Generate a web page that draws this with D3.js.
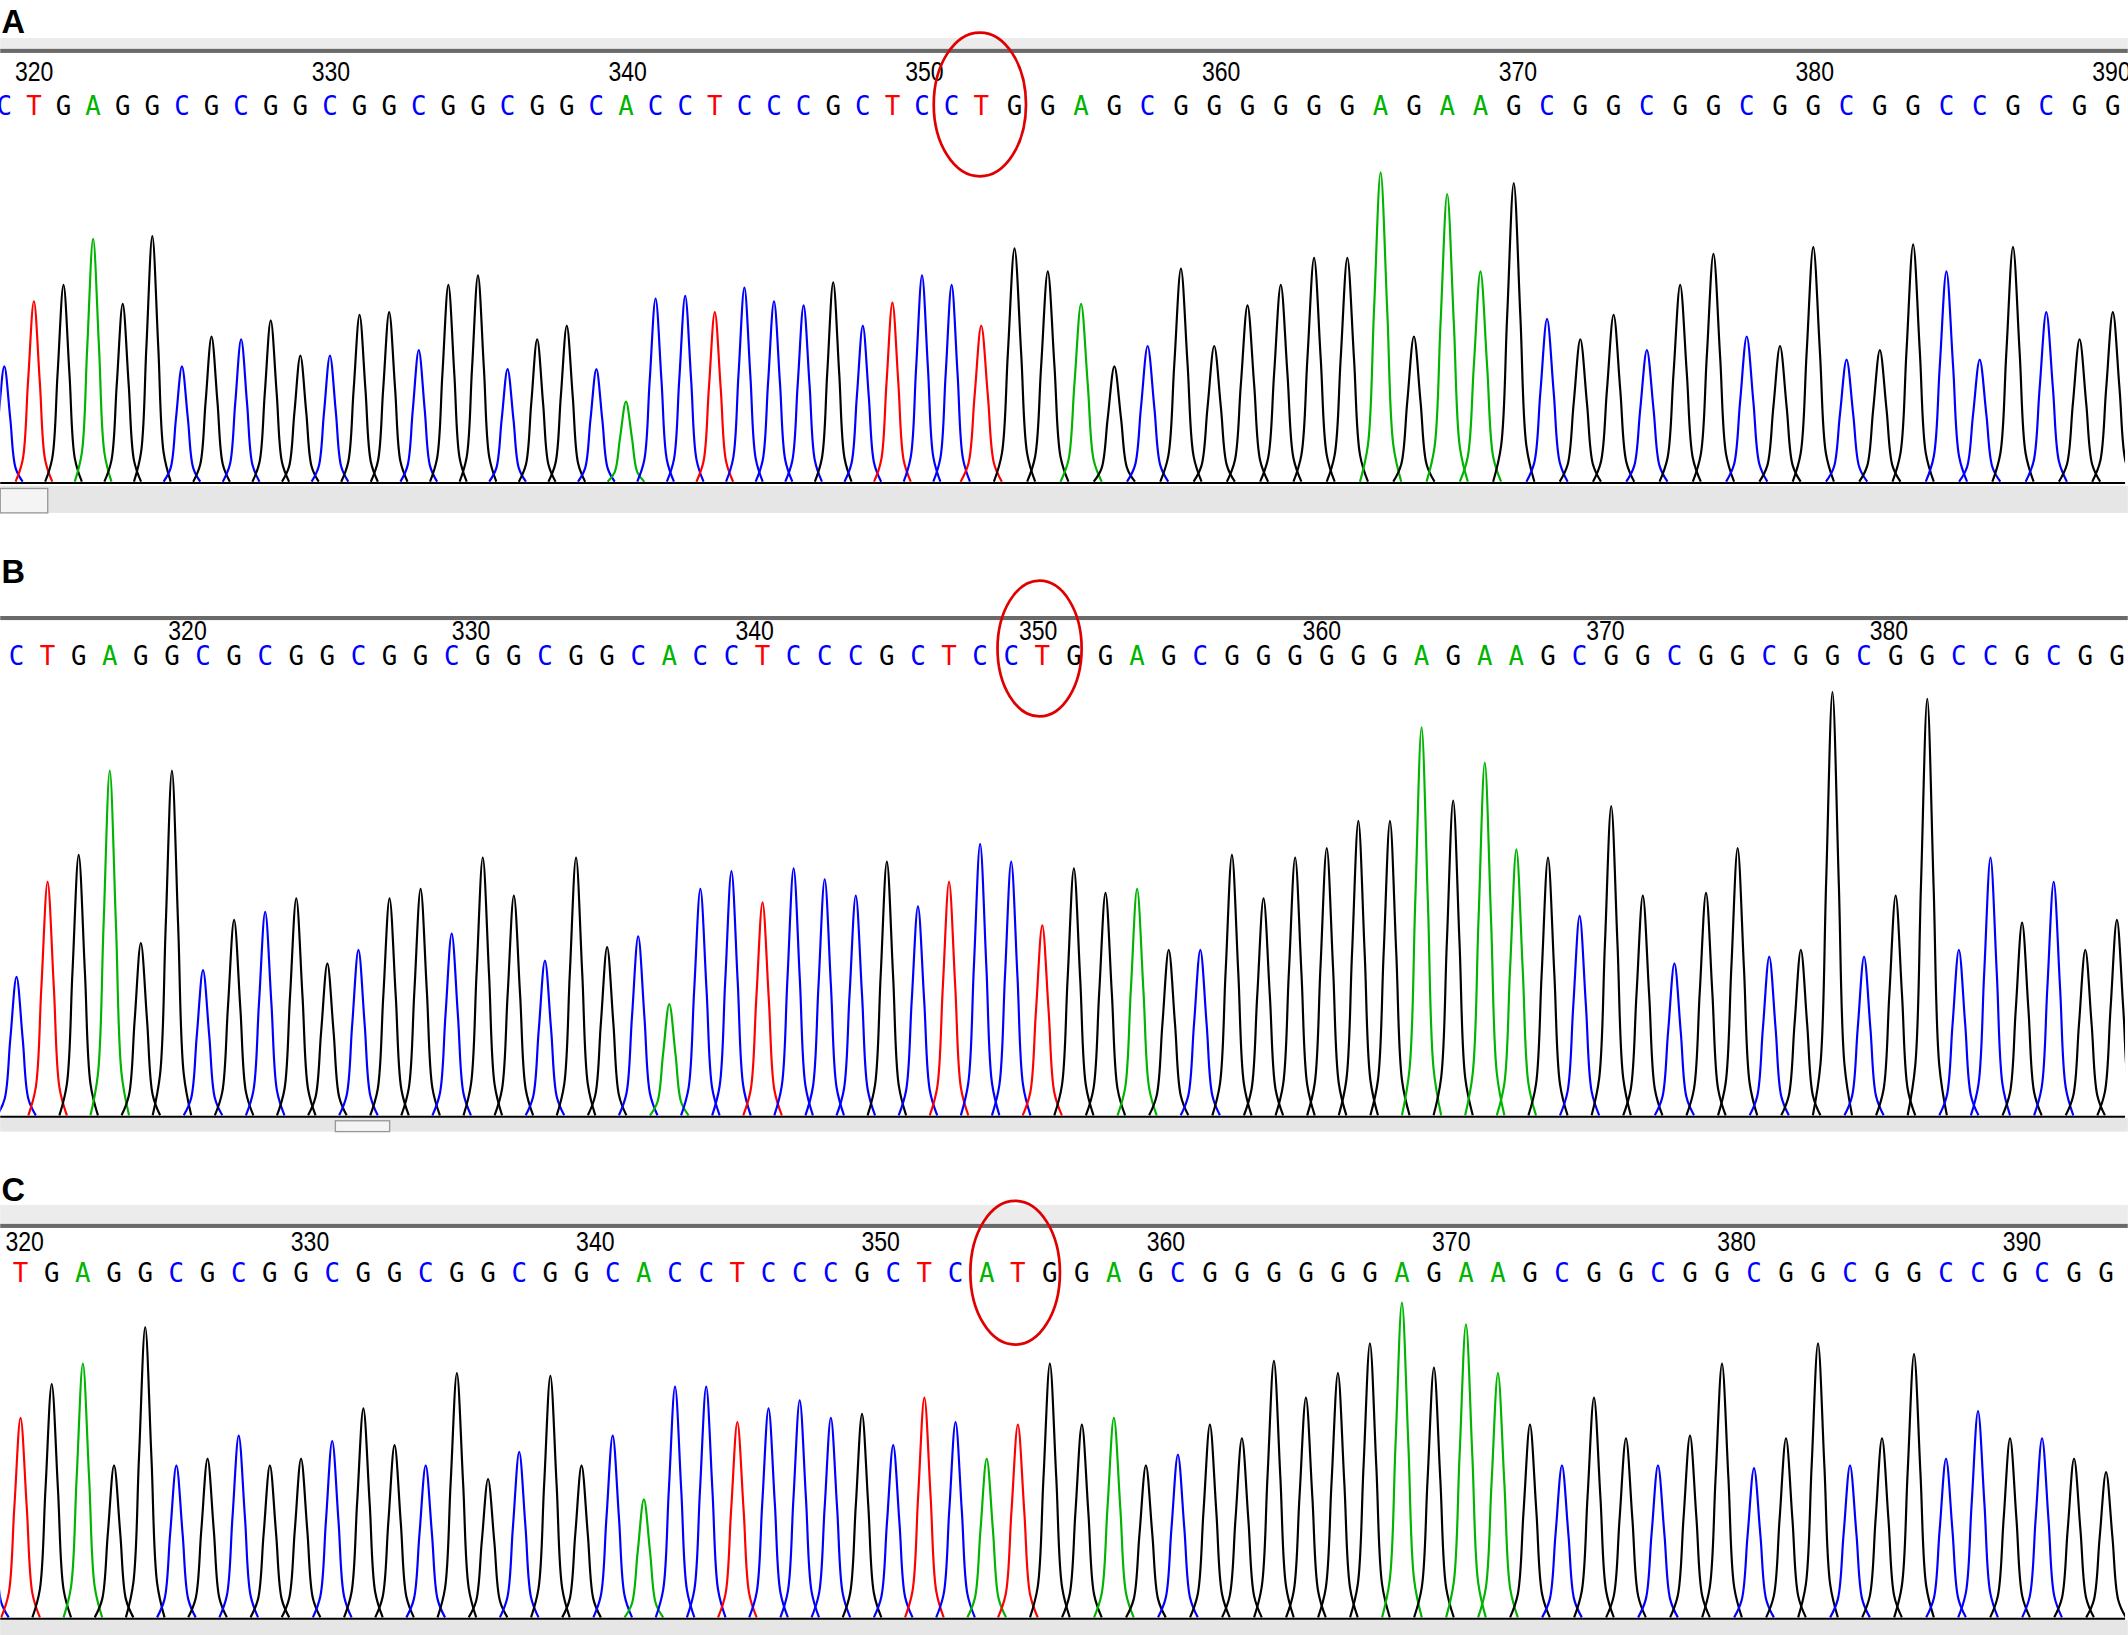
<!DOCTYPE html>
<html><head><meta charset="utf-8">
<script src="https://cdn.jsdelivr.net/npm/d3@7"></script>
<style>body{margin:0;background:#fff}svg{display:block}</style>
</head><body>
<svg id="c" width="2128" height="1635" viewBox="0 0 1568 1205"></svg>
<script>
const seqA = "CTGAGGCGCGGCGGCGGCGGCACCTCCCGCTCCTGGAGCGGGGGGAGAAGCGGCGGCGGCGGCCGCGG";
const seqB = "CTGAGGCGCGGCGGCGGCGGCACCTCCCGCTCCTGGAGCGGGGGGAGAAGCGGCGGCGGCGGCCGCGG";
const seqC = "CTGAGGCGCGGCGGCGGCGGCACCTCCCGCTCATGGAGCGGGGGGAGAAGCGGCGGCGGCGGCCGCGG";
const peaksA = [85,133,145,179,131,181,85,107,105,119,93,93,123,125,97,145,152,83,105,115,83,59,135,137,125,143,133,130,147,115,132,152,145,115,172,155,131,85,100,157,100,130,145,165,165,228,107,212,155,220,120,105,123,97,145,168,107,100,173,90,97,175,155,90,173,125,105,125];
const peaksB = [102,172,192,254,127,254,107,144,150,160,112,122,160,167,134,190,162,114,190,124,132,82,167,180,157,182,174,162,187,154,172,200,187,140,182,164,167,122,122,192,160,190,197,217,217,286,232,260,196,190,147,228,162,112,164,197,117,122,312,117,162,307,122,190,142,172,122,144];
const peaksC = [92,147,172,187,112,214,112,117,134,112,117,130,154,127,112,180,102,122,178,112,134,87,170,170,144,154,160,147,150,127,162,144,117,142,187,142,147,112,120,142,132,189,162,180,202,232,184,216,180,142,112,162,132,112,134,187,110,132,202,112,132,194,117,152,132,132,117,107];
const ticksA = [320,330,340,350,360,370,380,390];
const ticksB = [320,330,340,350,360,370,380];
const ticksC = [320,330,340,350,360,370,380,390];
const baseColor = {A:"#00b400",C:"#0000ff",G:"#000000",T:"#ff0000"};

const svg = d3.select("#c");
const panels = [
 {label:"A",labelY:24,seq:seqA,peaks:peaksA,ticks:ticksA,top:37,numY:60,baseY:85,base:355,xd:[0,33,67],xr:[3,723,1557],tk:[320,390],tr:[25,1556],
  strip:[358,378],thumb:[0,35],band:[28,36],circle:[722,77,34,53]},
 {label:"B",labelY:430,seq:seqB,peaks:peaksB,ticks:ticksB,top:455,numY:472,baseY:490,base:822,xd:[0,33,67],xr:[12,768,1560],tk:[320,380],tr:[138,1392],
  strip:[824,834],thumb:[247,287],band:null,circle:[766,478,31,50]},
 {label:"C",labelY:885,seq:seqC,peaks:peaksC,ticks:ticksC,top:903,numY:922,baseY:945,base:1192,xd:[0,33,67],xr:[-8,750,1552],tk:[320,390],tr:[18,1490],
  strip:[1194,1205],thumb:null,band:[888,902],circle:[748,938,33,53]}
];
const line = d3.line().curve(d3.curveCatmullRom.alpha(0.5));
panels.forEach(p=>{
  const g = svg.append("g");
  if(p.band) g.append("rect").attr("x",0).attr("y",p.band[0]).attr("width",1568).attr("height",p.band[1]-p.band[0]).attr("fill","#ececec");
  g.append("text").attr("x",1).attr("y",p.labelY).text(p.label)
   .attr("font-family","Liberation Sans, Arial").attr("font-weight","bold").attr("font-size",24);
  g.append("rect").attr("x",0).attr("y",p.top-1).attr("width",1568).attr("height",3).attr("fill","#6a6a6a");
  const xs = d3.scaleLinear().domain(p.xd).range(p.xr);
  const ts = d3.scaleLinear().domain(p.tk).range(p.tr);
  const ys = d3.scaleLinear().domain([0,320]).range([p.base,p.base-320]);
  g.selectAll(".n").data(p.ticks).enter().append("text")
   .attr("x",d=>ts(d)).attr("y",p.numY).attr("text-anchor","middle")
   .attr("font-family","Liberation Sans Narrow, Liberation Sans, Arial").attr("font-size",20)
   .attr("transform",d=>`translate(${ts(d)},0) scale(0.85,1) translate(${-ts(d)},0)`)
   .text(d=>d);
  g.selectAll(".b").data(p.seq.split("")).enter().append("text")
   .attr("x",(d,i)=>xs(i)).attr("y",p.baseY).attr("text-anchor","middle")
   .attr("font-family","DejaVu Sans Mono, monospace").attr("font-size",19)
   .attr("fill",d=>baseColor[d]).text(d=>d);
  g.append("rect").attr("x",0).attr("y",p.strip[0]).attr("width",1568).attr("height",p.strip[1]-p.strip[0]).attr("fill","#e6e6e6");
  if(p.thumb) g.append("rect").attr("x",p.thumb[0]).attr("y",p.strip[0]+2).attr("width",p.thumb[1]-p.thumb[0]).attr("height",p.strip[1]-p.strip[0]-2).attr("fill","#f4f4f4").attr("stroke","#999");
  const clip = "clip"+p.label;
  svg.append("clipPath").attr("id",clip).append("rect").attr("x",0).attr("y",0).attr("width",1566).attr("height",1205);
  const pg = g.append("g").attr("clip-path",`url(#${clip})`);
  p.peaks.forEach((h,i)=>{
    const b = p.seq[i], x = xs(i), yb = ys(0), yt = ys(h);
    const w = i<p.seq.length-1 ? xs(i+1)-xs(i) : xs(i)-xs(i-1);
    const pts = [[x-0.62*w,yb],[x-0.38*w,ys(h*0.12)],[x-0.2*w,ys(h*0.55)],[x,yt],[x+0.2*w,ys(h*0.55)],[x+0.38*w,ys(h*0.12)],[x+0.62*w,yb]];
    pg.append("path").attr("d",line(pts)).attr("fill","none").attr("stroke",baseColor[b]).attr("stroke-width",1.6);
  });
  g.append("line").attr("x1",0).attr("x2",1566).attr("y1",p.base+1).attr("y2",p.base+1).attr("stroke","#000").attr("stroke-width",1.5);
  const c = p.circle;
  g.append("ellipse").attr("cx",c[0]).attr("cy",c[1]).attr("rx",c[2]).attr("ry",c[3]).attr("fill","none").attr("stroke","#e00000").attr("stroke-width",2);
});
</script>
</body></html>
